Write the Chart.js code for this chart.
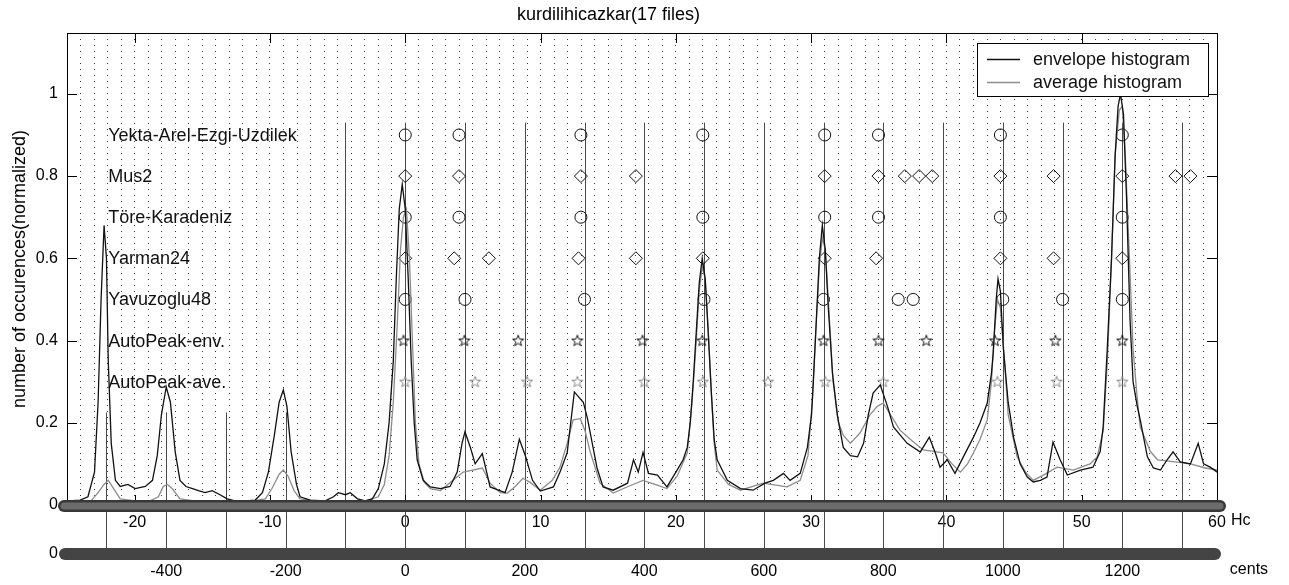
<!DOCTYPE html>
<html><head><meta charset="utf-8">
<script src="https://cdn.jsdelivr.net/npm/chart.js@4.4.1/dist/chart.umd.min.js"></script>
<style>html,body{margin:0;padding:0;background:#fff;}#wrap{width:1289px;height:585px;}</style>
</head><body><div id="wrap"><canvas id="c" width="1289" height="585"></canvas></div>
<script>
const HC = 1200 / 53;                       // one Holdrian comma in cents
const chartTitle = 'kurdilihicazkar(17 files)';
const yAxisTitle = 'number of occurences(normalized)';

const envCents = [-564,-544,-531,-520,-514,-509,-504,-500,-497,-492,-485,-477,-464,-452,-435,-423,-415,-408,-400,-393,-385,-377,-367,-356,-346,-335,-323,-310,-298,-285,-268,-251,-239,-229,-219,-211,-204,-198,-191,-182,-176,-159,-134,-120,-112,-100,-92,-80,-67,-55,-45,-35,-27,-20,-15,-10,-5,0,5,10,15,20,30,42,59,75,87,95,100,109,117,129,142,156,167,179,191,201,213,226,248,259,271,283,298,305,313,321,331,348,372,382,390,398,407,422,438,455,465,472,477,482,487,492,497,502,507,512,517,522,539,561,582,602,616,633,644,661,673,680,683,688,693,698,703,708,715,723,733,745,757,767,775,783,795,807,817,840,862,877,887,895,907,920,934,951,962,974,981,984,989,992,996,1001,1009,1018,1029,1041,1051,1063,1074,1084,1096,1108,1130,1151,1163,1168,1175,1182,1188,1193,1197,1202,1207,1213,1218,1225,1230,1242,1252,1264,1275,1285,1297,1314,1327,1336,1347,1359];
const envValues = [0.01,0.012,0.02,0.08,0.25,0.5,0.68,0.6,0.35,0.15,0.06,0.045,0.05,0.04,0.045,0.06,0.12,0.22,0.287,0.25,0.13,0.06,0.045,0.04,0.035,0.03,0.035,0.025,0.015,0.01,0.01,0.012,0.03,0.08,0.17,0.25,0.28,0.24,0.13,0.05,0.02,0.012,0.01,0.02,0.03,0.025,0.03,0.015,0.01,0.015,0.04,0.1,0.2,0.35,0.55,0.72,0.78,0.72,0.55,0.35,0.2,0.11,0.06,0.044,0.04,0.045,0.08,0.15,0.178,0.14,0.10,0.125,0.044,0.036,0.03,0.08,0.16,0.12,0.06,0.034,0.044,0.08,0.127,0.275,0.25,0.21,0.15,0.09,0.044,0.036,0.053,0.11,0.08,0.128,0.077,0.073,0.044,0.085,0.11,0.14,0.2,0.30,0.42,0.54,0.60,0.55,0.42,0.28,0.16,0.11,0.06,0.04,0.036,0.053,0.06,0.077,0.06,0.077,0.14,0.22,0.30,0.45,0.6,0.68,0.62,0.48,0.32,0.22,0.14,0.12,0.117,0.15,0.22,0.272,0.292,0.24,0.19,0.15,0.129,0.165,0.127,0.092,0.11,0.077,0.117,0.165,0.2,0.248,0.32,0.37,0.5,0.55,0.52,0.38,0.25,0.165,0.1,0.068,0.056,0.06,0.068,0.153,0.11,0.073,0.085,0.092,0.13,0.19,0.385,0.6,0.85,0.97,1.0,0.95,0.75,0.45,0.30,0.24,0.207,0.117,0.09,0.085,0.11,0.129,0.105,0.10,0.15,0.10,0.092,0.08];

const aveCents = [-564,-527,-514,-504,-497,-488,-477,-452,-427,-413,-405,-398,-390,-377,-343,-276,-234,-223,-211,-204,-196,-186,-176,-142,-100,-67,-45,-35,-27,-20,-13,-8,-3,2,7,12,17,23,32,42,59,84,97,129,142,159,171,184,197,209,226,246,259,271,281,293,301,310,326,348,373,398,418,438,455,472,480,487,492,497,502,507,512,517,522,541,561,599,639,661,674,681,688,693,698,703,710,716,725,733,745,761,778,790,800,812,828,849,867,900,915,929,941,951,962,974,981,986,991,996,1003,1009,1024,1038,1051,1071,1091,1118,1146,1158,1168,1175,1182,1188,1195,1200,1205,1212,1218,1225,1230,1247,1259,1289,1314,1339,1359];
const aveValues = [0.005,0.008,0.03,0.05,0.06,0.04,0.015,0.01,0.01,0.02,0.045,0.05,0.04,0.015,0.008,0.005,0.015,0.04,0.075,0.085,0.07,0.035,0.015,0.008,0.01,0.01,0.02,0.05,0.12,0.25,0.45,0.62,0.70,0.72,0.6,0.4,0.2,0.1,0.055,0.04,0.035,0.065,0.08,0.09,0.053,0.03,0.029,0.045,0.065,0.055,0.036,0.06,0.092,0.15,0.207,0.21,0.18,0.127,0.053,0.029,0.045,0.06,0.05,0.04,0.07,0.127,0.25,0.4,0.52,0.58,0.55,0.43,0.28,0.15,0.085,0.05,0.036,0.053,0.044,0.06,0.12,0.25,0.45,0.58,0.65,0.62,0.45,0.3,0.2,0.17,0.15,0.175,0.22,0.24,0.248,0.22,0.182,0.155,0.134,0.127,0.1,0.08,0.1,0.127,0.16,0.207,0.3,0.42,0.5,0.48,0.35,0.22,0.117,0.08,0.06,0.075,0.092,0.085,0.1,0.117,0.18,0.35,0.6,0.85,0.96,0.97,0.85,0.6,0.38,0.26,0.19,0.13,0.11,0.105,0.10,0.09,0.085];

const tuningNames = ['Yekta-Arel-Ezgi-Uzdilek','Mus2','Töre-Karadeniz','Yarman24','Yavuzoglu48','AutoPeak-env.','AutoPeak-ave.'];
const tuningRows  = [0.9, 0.8, 0.7, 0.6, 0.5, 0.4, 0.3];
const yektaCents       = [0,90,294,498,702,792,996,1200];
const mus2Cents        = [0,90,294,386,702,792,836,860,882,996,1085,1200,1289,1314];
const toreCents        = [0,90,294,498,702,792,996,1200];
const yarman24Cents    = [0,82,140,290,386,498,702,788,996,1085,1200];
const yavuzoglu48Cents = [0,100,300,500,700,825,850,1000,1100,1200];
const autoEnvCents     = [-3,99,189,288,397,497,700,792,872,987,1088,1200];
const autoAveCents     = [0,117,204,288,400,498,607,703,800,991,1090,1200];
const labelCents = -497;

const refLineCents = [-500,-400,-300,-200,-100,0,100,200,300,400,500,600,700,800,900,1000,1100,1200,1300];
const refLineTops  = [0.225,0.225,0.225,0.225,0.93,0.93,0.93,0.93,0.93,0.93,0.93,0.93,0.93,0.93,0.93,0.93,0.93,0.93,0.93];

const hcMin = -25, hcMax = 60;
const yMax = 1.148;

function pentagram(color) {
  const c = document.createElement('canvas');
  c.width = 14; c.height = 14;
  const g = c.getContext('2d');
  g.strokeStyle = color; g.lineWidth = 1;
  g.beginPath();
  for (let i = 0; i < 10; i++) {
    const r = i % 2 === 0 ? 5.8 : 2.4;
    const a = -Math.PI / 2 + i * Math.PI / 5;
    const px = 7 + r * Math.cos(a), py = 7.4 + r * Math.sin(a);
    if (i === 0) g.moveTo(px, py); else g.lineTo(px, py);
  }
  g.closePath(); g.stroke();
  return c;
}
const starBlack = pentagram('#111');
const starGrey = pentagram('#8a8a8a');

const toXY = (xs, ys) => xs.map((x, i) => ({x, y: ys[i]}));
const row = (xs, v) => xs.map(x => ({x, y: v}));
const markerSets = [
  {cents: yektaCents, style: 'circle', color: '#111', r: 6},
  {cents: mus2Cents, style: 'rectRot', color: '#111', r: 6.5},
  {cents: toreCents, style: 'circle', color: '#111', r: 6},
  {cents: yarman24Cents, style: 'rectRot', color: '#111', r: 6.5},
  {cents: yavuzoglu48Cents, style: 'circle', color: '#111', r: 6},
  {cents: autoEnvCents, style: starBlack, color: '#111', r: 6},
  {cents: autoAveCents, style: starGrey, color: '#8a8a8a', r: 6}
];

const datasets = [
  {label: 'envelope histogram', data: toXY(envCents, envValues), showLine: true, borderColor: '#111', borderWidth: 1.3, pointRadius: 0, tension: 0, xAxisID: 'xc', yAxisID: 'y'},
  {label: 'average histogram', data: toXY(aveCents, aveValues), showLine: true, borderColor: '#8c8c8c', borderWidth: 1.3, pointRadius: 0, tension: 0, xAxisID: 'xc', yAxisID: 'y'}
];
markerSets.forEach((m, i) => datasets.push({
  label: tuningNames[i], data: row(m.cents, tuningRows[i]), showLine: false,
  pointStyle: m.style, pointRadius: m.r, pointBorderColor: m.color, pointBackgroundColor: 'rgba(0,0,0,0)',
  pointBorderWidth: 1, xAxisID: 'xc', yAxisID: 'y'
}));

const FONT = 'Liberation Sans';

const deco = {
  id: 'deco',
  beforeDatasetsDraw(chart) {
    const {ctx, scales: {xc, y}} = chart;
    ctx.save();
    ctx.strokeStyle = '#4a4a4a'; ctx.lineWidth = 1;
    const yb = xc.top + 4;
    refLineCents.forEach((c, i) => {
      const px = Math.round(xc.getPixelForValue(c)) + 0.5;
      ctx.beginPath(); ctx.moveTo(px, y.getPixelForValue(refLineTops[i])); ctx.lineTo(px, yb); ctx.stroke();
    });
    ctx.restore();
  },
  afterDraw(chart) {
    const {ctx, chartArea: a, scales: {xc, xh, y}} = chart;
    ctx.save();
    // frame
    ctx.strokeStyle = '#000'; ctx.lineWidth = 1;
    ctx.beginPath();
    ctx.moveTo(a.left + 0.5, a.bottom); ctx.lineTo(a.left + 0.5, a.top + 0.5);
    ctx.lineTo(a.right + 0.5, a.top + 0.5); ctx.lineTo(a.right + 0.5, a.bottom);
    ctx.stroke();
    // inward ticks
    ctx.beginPath();
    for (let v = 0.2; v < 1.05; v += 0.2) {
      const py = Math.round(y.getPixelForValue(v)) + 0.5;
      ctx.moveTo(a.left, py); ctx.lineTo(a.left + 10, py);
      ctx.moveTo(a.right, py); ctx.lineTo(a.right - 10, py);
    }
    for (let h = -20; h <= 50; h += 10) {
      const px = Math.round(xh.getPixelForValue(h)) + 0.5;
      ctx.moveTo(px, a.top); ctx.lineTo(px, a.top + 10);
      ctx.moveTo(px, a.bottom - 5); ctx.lineTo(px, a.bottom - 10);
    }
    ctx.stroke();
    // axis bars
    const y0 = y.getPixelForValue(0) + 1;
    ctx.lineCap = 'round';
    ctx.strokeStyle = '#383838'; ctx.lineWidth = 12;
    ctx.beginPath(); ctx.moveTo(a.left - 3, y0); ctx.lineTo(a.right + 3, y0); ctx.stroke();
    ctx.strokeStyle = '#6c6c6c'; ctx.lineWidth = 7;
    ctx.beginPath(); ctx.moveTo(a.left - 3, y0); ctx.lineTo(a.right + 3, y0); ctx.stroke();
    const y2 = xc.top + 4;
    ctx.strokeStyle = '#444'; ctx.lineWidth = 12;
    ctx.beginPath(); ctx.moveTo(a.left - 2, y2); ctx.lineTo(a.right - 2, y2); ctx.stroke();
    // texts
    ctx.fillStyle = '#000';
    ctx.font = '16px ' + FONT;
    ctx.textAlign = 'right'; ctx.textBaseline = 'middle';
    ctx.fillText('0', a.left - 9, y2);
    ctx.textAlign = 'left';
    ctx.fillText('Hc', xh.getPixelForValue(60) + 14, 521);
    ctx.fillText('cents', xc.getPixelForValue(1380), 570);
    // tuning labels
    ctx.font = '18px ' + FONT; ctx.fillStyle = '#111';
    tuningNames.forEach((n, i) => ctx.fillText(n, xc.getPixelForValue(labelCents), y.getPixelForValue(tuningRows[i]) + 1));
    // legend
    const lx = 977, ly = 43, lw = 231, lh = 53;
    ctx.fillStyle = '#fff'; ctx.fillRect(lx, ly, lw, lh);
    ctx.lineCap = 'butt'; ctx.strokeStyle = '#000'; ctx.lineWidth = 1;
    ctx.strokeRect(lx + 0.5, ly + 0.5, lw, lh);
    [0, 1].forEach(i => {
      const ds = chart.data.datasets[i];
      const yy = ly + 16 + i * 23;
      ctx.strokeStyle = ds.borderColor; ctx.lineWidth = 1.3;
      ctx.beginPath(); ctx.moveTo(lx + 10, yy + 0.5); ctx.lineTo(lx + 43, yy + 0.5); ctx.stroke();
      ctx.fillStyle = '#111'; ctx.font = '18px ' + FONT;
      ctx.textAlign = 'left'; ctx.textBaseline = 'middle';
      ctx.fillText(ds.label, lx + 56, yy + 1);
    });
    ctx.restore();
  }
};

new Chart(document.getElementById('c'), {
  type: 'scatter',
  data: {datasets},
  options: {
    responsive: false, animation: false,
    layout: {padding: {left: 0, right: 72, top: 0, bottom: 0}},
    plugins: {
      legend: {display: false}, tooltip: {enabled: false},
      title: {display: true, text: chartTitle, color: '#000', font: {family: FONT, size: 18, weight: 'normal'}, padding: {top: 4, bottom: 7.4}}
    },
    scales: {
      y: {
        position: 'left', min: 0, max: yMax,
        afterFit(s) { s.width = 67; },
        ticks: {stepSize: 0.2, includeBounds: false, padding: 9, color: '#000', font: {family: FONT, size: 16},
          callback: v => Math.abs(v) < 1e-9 ? '0' : (Math.abs(v - 1) < 1e-9 ? '1' : v.toFixed(1))},
        grid: {display: false, drawTicks: false},
        border: {display: true, color: '#000', width: 1},
        title: {display: true, text: yAxisTitle, color: '#000', font: {family: FONT, size: 18}, padding: {top: 9, bottom: 0}}
      },
      xh: {
        type: 'linear', position: 'bottom', weight: 0, min: hcMin, max: hcMax,
        afterFit(s) { s.height = 45; },
        ticks: {stepSize: 1, autoSkip: false, maxRotation: 0, includeBounds: false, padding: 8, color: '#000', font: {family: FONT, size: 16},
          callback: v => (Math.round(v) % 10 === 0 ? String(Math.round(v)) : '')},
        grid: {display: true, drawOnChartArea: true, drawTicks: false, color: '#3a3a3a', lineWidth: 1},
        border: {display: false, dash: [1, 5]}
      },
      xc: {
        type: 'linear', position: 'bottom', weight: 1, min: hcMin * HC, max: hcMax * HC,
        afterFit(s) { s.height = 35; },
        ticks: {stepSize: 200, includeBounds: false, maxRotation: 0, padding: 12, color: '#000', font: {family: FONT, size: 16},
          callback: v => String(Math.round(v))},
        grid: {display: false, drawTicks: false},
        border: {display: false}
      }
    }
  },
  plugins: [deco]
});
</script>
</body></html>
